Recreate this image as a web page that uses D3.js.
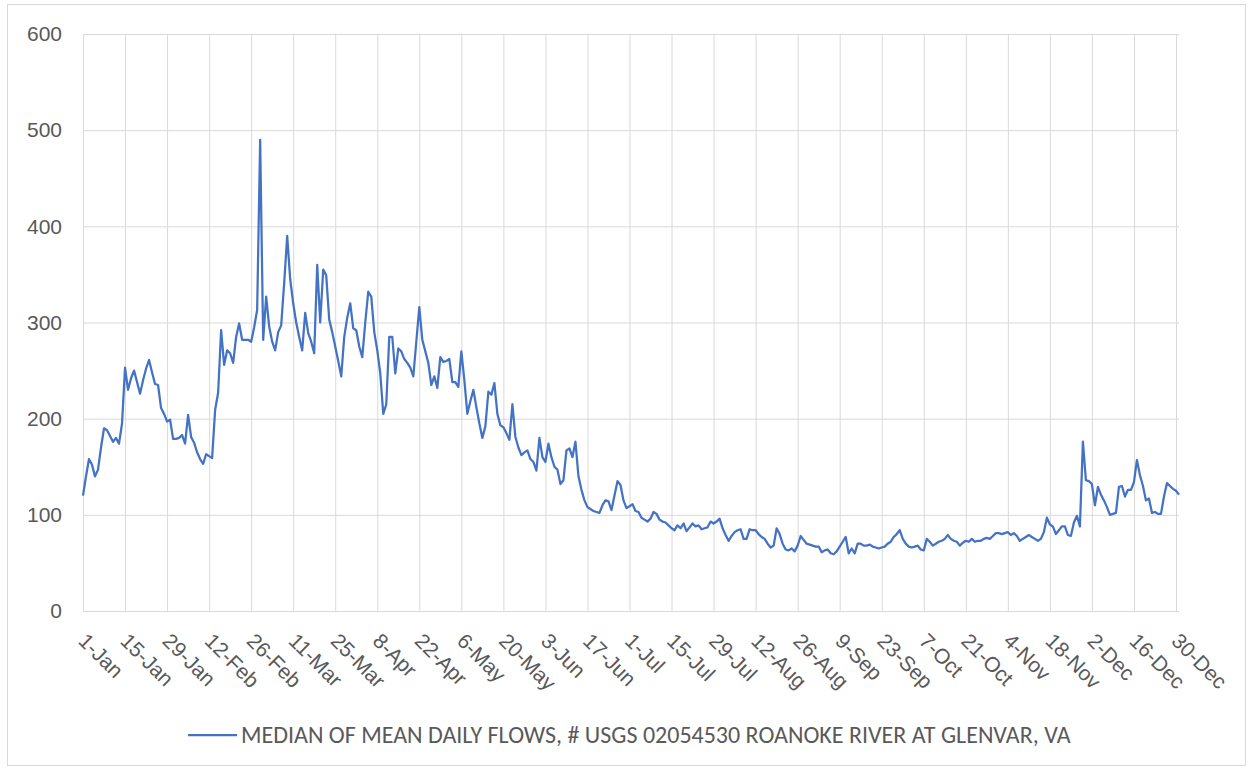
<!DOCTYPE html>
<html>
<head>
<meta charset="utf-8">
<script src="https://cdnjs.cloudflare.com/ajax/libs/d3/7.8.5/d3.min.js"></script>
<style>
    body { margin: 0; background: #fff; }
    svg { font-family: Carlito, "Open Sans", sans-serif; }
    .grid line, .grid path { stroke: #d9d9d9; stroke-width: 1; }
    .axis text { fill: #595959; }
    .line { fill: none; stroke: #4472c4; stroke-width: 2.25; stroke-linejoin: round; }
</style>
</head>
<body>
<div id="chart"></div>
<script>
// Median of mean daily flows, one value per day (leap year, 366 days)
var jan = [120,140,158,152,140,147,170,190,188,182,176,180,174,195,253,230,242,250,238,226,240,252,261,248,236,235,211,205,197,199,179];
var feb = [179,180,183,174,204,181,175,165,158,153,163,161,159,209,227,292,256,271,268,258,285,299,282,282,282,280,295,313,490];
var mar = [282,327,296,280,271,290,297,341,390,345,320,300,285,271,310,289,280,268,360,300,355,349,303,290,275,260,244,285,305,320,294];
var apr = [292,275,264,300,332,327,290,271,247,205,215,285,285,247,273,270,262,258,253,244,280,316,282,270,258,235,244,232,264,259];
var may = [260,262,238,238,233,270,240,205,218,230,212,195,180,192,228,225,237,205,193,191,185,178,215,181,170,162,165,167,158,155,146];
var jun = [180,160,155,174,160,150,147,132,136,167,169,160,176,140,126,115,108,106,104,103,102,110,115,114,105,120,135,131,115,107];
var jul = [109,111,104,103,97,95,93,96,103,101,95,93,92,89,86,84,89,86,91,83,87,91,88,89,85,86,87,93,91,93,96];
var aug = [86,79,73,78,82,84,85,75,75,85,84,84,80,77,75,70,66,68,86,80,70,64,63,65,62,68,78,74,70,69,68];
var sep = [67,67,61,63,64,60,59,62,67,72,77,60,65,60,70,70,68,68,69,67,66,65,66,67,70,72,77,80,84,75];
var oct = [70,67,66,67,68,64,63,75,72,68,70,72,73,75,79,75,73,72,68,71,73,72,75,72,73,73,75,76,75,78,81];
var nov = [81,80,81,82,79,81,78,73,75,77,79,77,75,73,75,82,97,90,88,80,84,88,88,79,78,92,99,88,176,136];
var dec = [135,132,110,129,121,115,108,100,101,102,129,130,119,126,126,134,157,141,130,115,117,102,103,101,101,119,133,130,127,125,121];

var flows = [].concat(jan, feb, mar, apr, may, jun, jul, aug, sep, oct, nov, dec);

// Tick labels, every 14 days
var xLabels = ['1-Jan','15-Jan','29-Jan','12-Feb','26-Feb','11-Mar','25-Mar','8-Apr','22-Apr','6-May','20-May','3-Jun','17-Jun',
    '1-Jul','15-Jul','29-Jul','12-Aug','26-Aug','9-Sep','23-Sep','7-Oct','21-Oct','4-Nov','18-Nov','2-Dec','16-Dec','30-Dec'];
var yTicks = [0, 100, 200, 300, 400, 500, 600];
var seriesName = 'MEDIAN OF MEAN DAILY FLOWS, # USGS 02054530 ROANOKE RIVER AT GLENVAR, VA';

var cfg = {
    'width': 1253, 'height': 770,
    'margin': {'top': 34, 'right': 74, 'bottom': 159, 'left': 83},
    'fontsize': '21px'
};
var w = cfg.width - cfg.margin.left - cfg.margin.right,
    h = cfg.height - cfg.margin.top - cfg.margin.bottom;

var svg = d3.select('#chart').append('svg')
    .attr('width', cfg.width)
    .attr('height', cfg.height);

// outer frame
svg.append('rect')
    .attr('x', 7.5).attr('y', 4.5)
    .attr('width', 1238).attr('height', 761)
    .attr('fill', 'none').attr('stroke', '#d9d9d9');

var g = svg.append('g')
    .attr('transform', 'translate(' + cfg.margin.left + ',' + cfg.margin.top + ')');

var xScale = d3.scaleLinear().domain([0, flows.length - 1]).range([0, w]);
var yScale = d3.scaleLinear().domain([0, 600]).range([h, 0]);
var tickDays = xLabels.map(function(d, i){ return i * 14; });

// GRIDLINES
g.append('g').attr('class', 'grid grid--y')
    .call(d3.axisLeft(yScale).tickValues(yTicks).tickSize(-w).tickFormat(''))
    .call(function(s){ s.select('.domain').remove(); });

g.append('g').attr('class', 'grid grid--x')
    .call(d3.axisBottom(xScale).tickValues(tickDays).tickSize(h).tickFormat(''))
    .call(function(s){ s.select('.domain').remove(); });

// AXIS
g.append('g').attr('class', 'axis axis--y')
    .call(d3.axisLeft(yScale).tickValues(yTicks).tickSize(0).tickPadding(21))
    .call(function(s){
        s.select('.domain').remove();
        s.selectAll('text').style('font-size', cfg.fontsize).style('font-family', null);
    });

g.append('g').attr('class', 'axis axis--x')
    .attr('transform', 'translate(0,' + h + ')')
    .call(d3.axisBottom(xScale).tickValues(tickDays).tickSize(0)
        .tickFormat(function(d, i){ return xLabels[i]; }))
    .call(function(s){
        s.select('.domain').attr('stroke', '#d9d9d9');
        s.selectAll('text')
            .attr('x', 0).attr('y', 0).attr('dy', '0.35em')
            .attr('transform', 'translate(-1,26) rotate(45)')
            .style('text-anchor', 'start')
            .style('font-size', cfg.fontsize).style('font-family', null);
    });

// LINE
var line = d3.line()
    .x(function(d, i){ return xScale(i); })
    .y(function(d){ return yScale(d); });

g.append('path')
    .datum(flows)
    .attr('class', 'line')
    .attr('d', line);

// LEGEND
var lg = svg.append('g').attr('transform', 'translate(188,735)');
lg.append('line')
    .attr('x1', 0).attr('x2', 49)
    .attr('stroke', '#4472c4').attr('stroke-width', 2.25);
lg.append('text')
    .attr('x', 53).attr('dy', '0.35em')
    .attr('fill', '#595959')
    .style('font-size', '24px')
    .text(seriesName);
</script>
</body>
</html>
